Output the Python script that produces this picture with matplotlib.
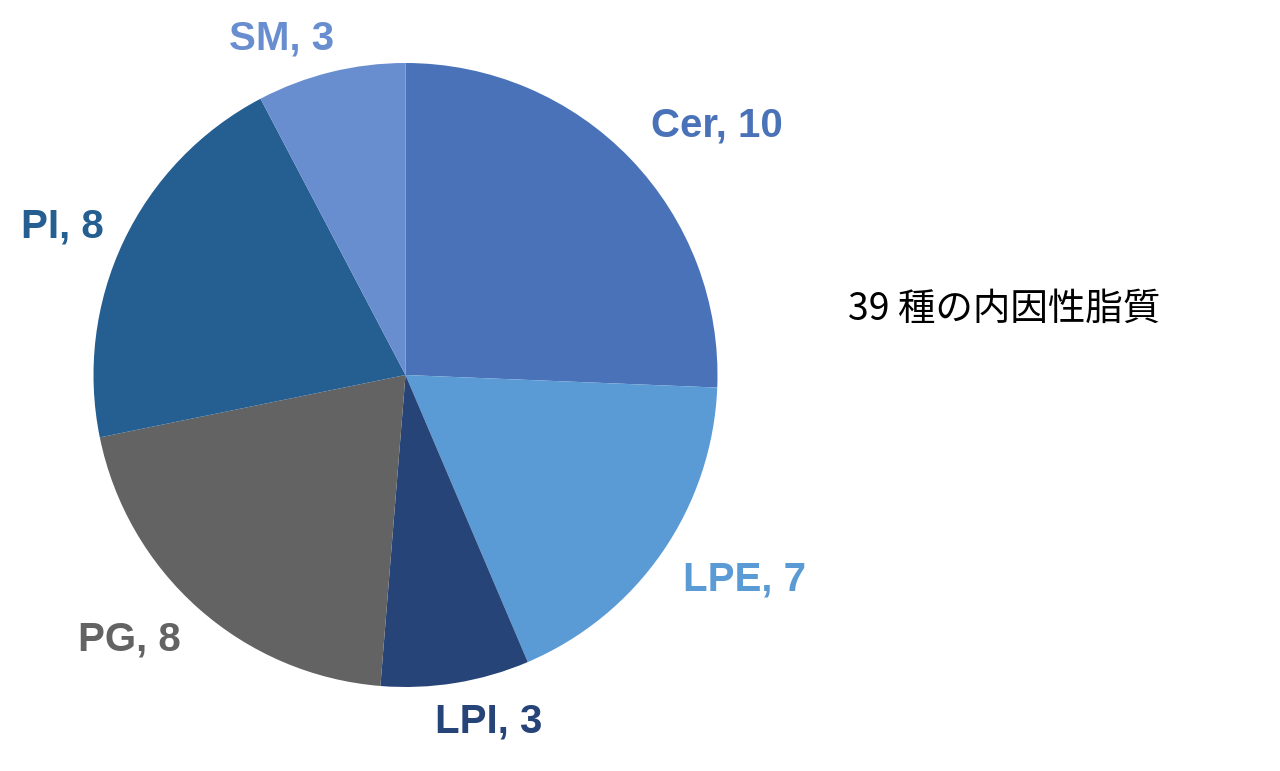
import numpy as np
import matplotlib
matplotlib.use("Agg")
import matplotlib.pyplot as plt

categories = ["Cer", "LPE", "LPI", "PG", "PI", "SM"]
values = [10, 7, 3, 8, 8, 3]
colors = ["#4A72B8", "#5B9BD5", "#264478", "#636363", "#255E91", "#698ED0"]
title_text = "39 種の内因性脂質"

# label placement style: radial distance factor, angular nudge (deg)
label_dist = [1.285, 1.263, 1.128, 1.218, 1.205, 1.160]
label_nudge = [-4.7, 4.1, 4.4, -5.1, 1.4, 6.1]

W, H = 1280, 771
fig = plt.figure(figsize=(W / 100, H / 100), dpi=100)
ax = fig.add_axes([0, 0, 1, 1])

cx, cy, R = 405.5, H - 375, 312
wedges, _ = ax.pie(values, colors=colors, startangle=90, counterclock=False,
                   center=(cx, cy), radius=R, frame=True,
                   wedgeprops=dict(linewidth=0))
ax.set_xlim(0, W)
ax.set_ylim(0, H)
ax.set_aspect("equal")
ax.axis("off")

for w, cat, v, col, d, nd in zip(wedges, categories, values, colors, label_dist, label_nudge):
    mid = np.deg2rad((w.theta1 + w.theta2) / 2 + nd)
    x = cx + R * d * np.cos(mid)
    y = cy + R * d * np.sin(mid) - 4
    ax.text(x, y, f"{cat}, {v}", color=col, fontsize=29, fontweight="bold",
            family=["Liberation Sans", "DejaVu Sans"], ha="center", va="center")

ax.text(1004, H - 309, title_text, fontsize=27, color="black",
        family=["Noto Sans CJK JP", "DejaVu Sans"], ha="center", va="center")

fig.savefig("out.png", dpi=100)
